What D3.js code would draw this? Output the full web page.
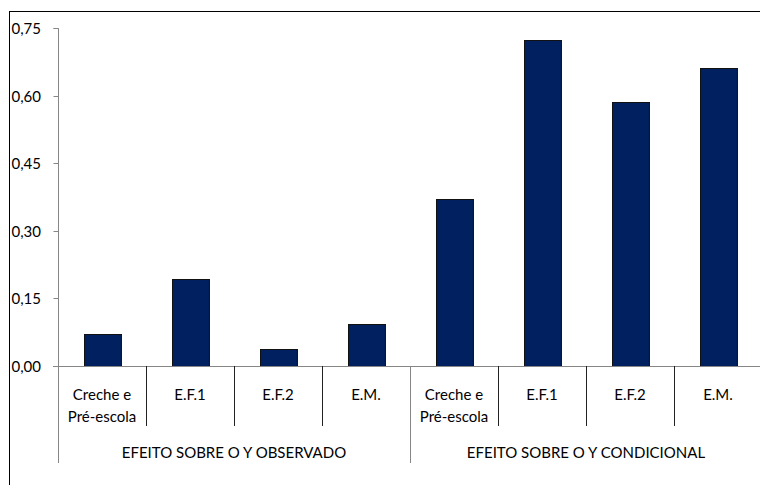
<!DOCTYPE html>
<html>
<head>
<meta charset="utf-8">
<script src="https://cdn.jsdelivr.net/npm/d3@7"></script>
<style>
  body { margin: 0; background: #fff; }
  svg text { font-family: Lato, "Open Sans", sans-serif; fill: #000; }
</style>
</head>
<body>
<script>
"use strict";
(function(){
    // data
    const groups = ["EFEITO SOBRE O Y OBSERVADO", "EFEITO SOBRE O Y CONDICIONAL"]
    const levels = [["Creche e", "Pré-escola"], ["E.F.1"], ["E.F.2"], ["E.M."]]
    const observado = [0.07, 0.193, 0.038, 0.094]
    const condicional = [0.37, 0.724, 0.585, 0.662]
    const yTicks = [0, 0.15, 0.30, 0.45, 0.60, 0.75]

    const measurements = { width: 760, height: 485 }
    const barColor = "#002060"
    const axisColor = "#868686"
    const fontSize = "15px"

    const rows = []
    groups.forEach((g, gi) => {
        const vals = gi === 0 ? observado : condicional
        levels.forEach((lab, li) => rows.push({ key: gi + "-" + li, group: gi, label: lab, value: vals[li] }))
    })

    const svg = d3.select("body").append("svg")
        .attr("width", measurements.width)
        .attr("height", measurements.height)

    // outer frame (extends beyond the window on right and bottom)
    svg.append("rect")
        .attr("x", 9.5).attr("y", 11.5)
        .attr("width", 800).attr("height", 600)
        .attr("fill", "none").attr("stroke", "#000").attr("stroke-width", 1)

    const scaleX = d3.scaleBand()
        .domain(rows.map(d => d.key))
        .range([58, 762])
        .paddingInner(0.58).paddingOuter(0.29)
    const scaleY = d3.scaleLinear()
        .domain([0, 0.75])
        .range([366, 28])

    // y axis
    const yAxis = d3.axisLeft(scaleY)
        .tickValues(yTicks)
        .tickSize(5)
        .tickPadding(7)
        .tickFormat(d => d3.format(".2f")(d).replace(".", ","))
    const gy = svg.append("g")
        .attr("transform", "translate(58.5,0)")
        .call(yAxis)
    gy.select(".domain").attr("stroke", axisColor).attr("d", "M-5," + (scaleY(0.75) + 0.5) + "H0V" + (scaleY(0) + 0.5))
    gy.selectAll(".tick line").attr("stroke", axisColor)
    gy.selectAll(".tick").attr("transform", d => "translate(0," + (Math.round(scaleY(d)) + 0.5) + ")")
    gy.selectAll("text").attr("text-anchor", "start").attr("x", -47).style("font-size", fontSize).attr("dy", "0.35em")

    // bars
    svg.selectAll(".bar")
        .data(rows)
        .enter()
        .append("rect")
        .attr("class", "bar")
        .attr("x", d => Math.round(scaleX(d.key)) + 0.5)
        .attr("y", d => Math.round(scaleY(d.value)) + 0.5)
        .attr("width", scaleX.bandwidth())
        .attr("height", d => scaleY(0) - Math.round(scaleY(d.value)))
        .attr("fill", barColor)
        .attr("stroke", "#111")
        .attr("stroke-width", 1)

    // x axis line
    svg.append("line")
        .attr("x1", 53).attr("x2", 762)
        .attr("y1", 366.5).attr("y2", 366.5)
        .attr("stroke", axisColor)

    // category separators
    const step = scaleX.step()
    const left = 58
    for (let i = 0; i <= rows.length; i++) {
        const isGroup = i % levels.length === 0
        svg.append("line")
            .attr("x1", left + i * step + 0.5).attr("x2", left + i * step + 0.5)
            .attr("y1", 366).attr("y2", isGroup ? 463 : 426)
            .attr("stroke", isGroup ? axisColor : "#222")
    }

    // category labels
    rows.forEach((d, i) => {
        const cx = left + (i + 0.5) * step
        d.label.forEach((line, li) => {
            svg.append("text")
                .attr("x", cx).attr("y", 395 + li * 21.5)
                .attr("dy", "0.35em")
                .attr("text-anchor", "middle")
                .style("font-size", fontSize)
                .text(line)
        })
    })

    // group labels
    groups.forEach((g, gi) => {
        svg.append("text")
            .attr("x", left + (gi * levels.length + levels.length / 2) * step)
            .attr("y", 453).attr("dy", "0.35em")
            .attr("text-anchor", "middle")
            .style("font-size", fontSize)
            .text(g)
    })
})()
</script>
</body>
</html>
